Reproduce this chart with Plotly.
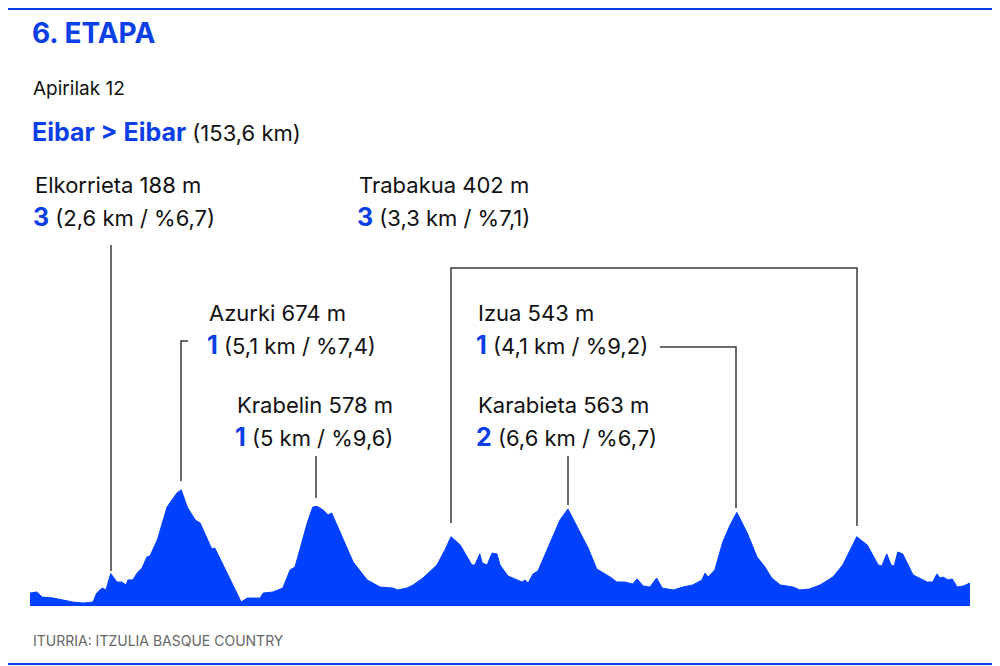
import plotly.graph_objects as go

km = [0, 1.1, 2.0, 3.8, 7.0, 8.7, 10.3, 10.9, 11.8, 12.4, 13.2, 14.2, 15.0, 15.7, 16.0, 16.8, 17.5, 18.3, 19.1, 19.6,
      20.8, 22.4, 23.2, 24.0, 24.7, 25.7, 27.0, 27.8, 29.7, 30.2, 32.2, 34.5, 35.5, 37.6, 38.1, 39.7, 41.3, 42.5, 43.3,
      45.3, 46.2, 46.9, 47.9, 48.7, 49.3, 50.7, 52.8, 55.1, 57.2, 59.3, 60.1, 61.6, 62.6, 64.2, 66.5, 67.8, 68.8, 70.3,
      72.2, 72.7, 73.5, 73.9, 74.7, 75.5, 76.3, 76.8, 78.1, 80.4, 80.9, 81.4, 82.2, 83.0, 86.6, 87.9, 89.5, 91.2, 92.6,
      94.8, 95.9, 97.2, 98.5, 99.2, 100.2, 101.3, 102.4, 103.3, 105.1, 106.7, 108.3, 109.8, 110.3, 110.8, 111.9, 113.2,
      114.4, 115.5, 117.2, 118.8, 120.1, 121.2, 122.6, 124.7, 125.8, 127.4, 129.1, 131.2, 132.8, 135.1, 136.8, 138.6,
      139.2, 140.0, 140.7, 141.2, 141.8, 142.6, 144.3, 146.6, 147.5, 148.2, 148.7, 149.2, 150.0, 150.7, 151.5, 152.5, 153.6]
elev = [75, 81, 52, 46, 23, 17, 23, 75, 104, 93, 188, 139, 139, 122, 151, 151, 191, 220, 284, 290,
        383, 574, 615, 655, 674, 574, 499, 481, 331, 336, 191, 23, 46, 46, 75, 81, 104, 209, 226,
        481, 574, 578, 557, 528, 539, 423, 255, 151, 110, 104, 93, 104, 122, 162, 238, 325, 402, 354,
        238, 238, 302, 249, 238, 307, 302, 238, 174, 139, 151, 133, 186, 203, 499, 563, 452, 336, 215,
        168, 139, 139, 128, 157, 116, 110, 162, 104, 93, 110, 122, 151, 191, 168, 209, 371,
        470, 543, 423, 284, 226, 162, 122, 110, 93, 99, 122, 168, 238, 402, 354, 238,
        232, 302, 238, 232, 313, 302, 180, 139, 139, 186, 162, 168, 151, 157, 110, 116, 133]

climb_names = ["Elkorrieta 188 m", "Azurki 674 m", "Krabelin 578 m", "Trabakua 402 m", "Izua 543 m", "Karabieta 563 m"]
climb_cat = ["3", "1", "1", "3", "1", "2"]
climb_info = ["(2,6 km / %6,7)", "(5,1 km / %7,4)", "(5 km / %9,6)", "(3,3 km / %7,1)", "(4,1 km / %9,2)", "(6,6 km / %6,7)"]

BLUE = "#0a3ee6"
FILL = "#0040ff"
FONT = "Inter"
OFF = 8  # page body margin
YMAX = 598 * 5.8

# screen pixel -> data helpers (layout only)
def X(px): return (px - 30) * 153.6 / 940
def Y(py): return (606 - py) * 5.8

fig = go.Figure()
fig.add_trace(go.Scatter(x=km, y=elev, mode="lines", fill="tozeroy", fillcolor=FILL,
                         line=dict(color=FILL, width=1), hoverinfo="skip"))

LC = "#3a3a3a"
segs = [
    [(111, 245), (111, 571)],
    [(188, 341), (181, 341), (181, 481)],
    [(316, 456), (316, 498)],
    [(451, 523), (451, 268), (857, 268), (857, 526)],
    [(660, 347), (736, 347), (736, 508)],
    [(568, 456), (568, 505)],
]
for s in segs:
    fig.add_trace(go.Scatter(x=[X(p[0]) for p in s], y=[Y(p[1]) for p in s], mode="lines",
                             line=dict(color=LC, width=1.5), hoverinfo="skip", cliponaxis=False))

label_pos = [(33, 185), (207, 313), (235, 405), (357, 185), (476, 313), (476, 405)]
anns = []
for (px, py), n, c, info in zip(label_pos, climb_names, climb_cat, climb_info):
    anns.append(dict(x=X(px), y=Y(py), text=n, showarrow=False, xanchor="left", yanchor="middle",
                     font=dict(family=FONT, size=22, color="#111")))
    anns.append(dict(x=X(px - 2), y=Y(py + 32),
                     text=f"<b><span style='color:{BLUE};font-size:25px'>{c}</span></b> {info}",
                     showarrow=False, xanchor="left", yanchor="middle",
                     font=dict(family=FONT, size=22, color="#111")))

anns += [
    dict(x=X(30), y=Y(33), text="<b>6. ETAPA</b>", showarrow=False, xanchor="left", yanchor="middle",
         font=dict(family=FONT, size=28, color=BLUE)),
    dict(x=X(31), y=Y(88), text="Apirilak 12", showarrow=False, xanchor="left", yanchor="middle",
         font=dict(family=FONT, size=19, color="#111")),
    dict(x=X(30), y=Y(132), text=f"<b><span style='color:{BLUE};font-size:25px'>Eibar &gt; Eibar</span></b> (153,6 km)",
         showarrow=False, xanchor="left", yanchor="middle", font=dict(family=FONT, size=22, color="#111")),
    dict(x=X(31), xref="x", y=Y(640) / YMAX, yref="paper", text="ITURRIA: ITZULIA BASQUE COUNTRY",
         showarrow=False, xanchor="left", yanchor="middle",
         font=dict(family=FONT, size=14, color="#666")),
]

fig.update_layout(
    width=1000, height=666, margin=dict(l=30 - OFF, r=1000 - 970 + OFF, t=0, b=666 - 606 + OFF),
    paper_bgcolor="white", plot_bgcolor="white", showlegend=False,
    xaxis=dict(range=[0, 153.6], visible=False, fixedrange=True),
    yaxis=dict(range=[0, YMAX], visible=False, fixedrange=True),
    annotations=anns,
    shapes=[
        dict(type="line", xref="paper", yref="paper", x0=-0.04, x1=1.06, y0=Y(9) / YMAX, y1=Y(9) / YMAX,
             line=dict(color=BLUE, width=2)),
        dict(type="line", xref="paper", yref="paper", x0=-0.04, x1=1.06, y0=Y(664) / YMAX, y1=Y(664) / YMAX,
             line=dict(color=BLUE, width=2)),
    ],
)
fig.write_html("out.html", config={"displayModeBar": False})
